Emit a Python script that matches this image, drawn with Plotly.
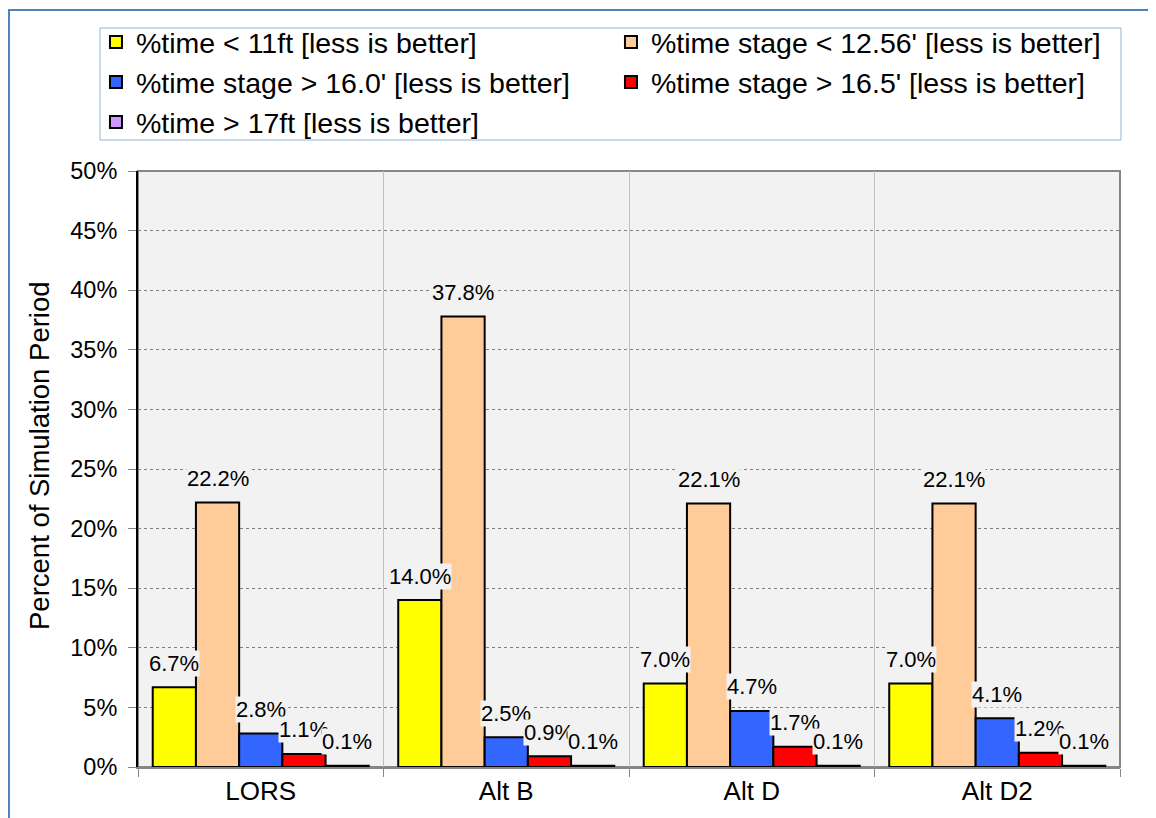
import plotly.graph_objects as go

# categories and series (percent of simulation period)
alternatives = ["LORS", "Alt B", "Alt D", "Alt D2"]
series_names = [
    "%time < 11ft [less is better]",
    "%time stage < 12.56' [less is better]",
    "%time stage > 16.0' [less is better]",
    "%time stage > 16.5' [less is better]",
    "%time > 17ft [less is better]",
]
lt_11ft = [6.7, 14.0, 7.0, 7.0]
lt_1256 = [22.2, 37.8, 22.1, 22.1]
gt_160 = [2.8, 2.5, 4.7, 4.1]
gt_165 = [1.1, 0.9, 1.7, 1.2]
gt_17ft = [0.1, 0.1, 0.1, 0.1]
y_ticks = [0, 5, 10, 15, 20, 25, 30, 35, 40, 45, 50]
y_tick_labels = ["0%", "5%", "10%", "15%", "20%", "25%", "30%", "35%", "40%", "45%", "50%"]
y_title = "Percent of Simulation Period"

series = [lt_11ft, lt_1256, gt_160, gt_165, gt_17ft]
colors = ["#FFFF00", "#FFCC99", "#3366FF", "#FF0000", "#CC99FF"]

FONT = "Liberation Sans, Arial, sans-serif"
BAR_PX = 43.2

fig = go.Figure()
for name, vals, col in zip(series_names, series, colors):
    fig.add_trace(
        go.Bar(
            x=alternatives,
            y=vals,
            name=name,
            marker=dict(color=col, line=dict(color="black", width=2)),
        )
    )

# data labels, Excel style: a little above each bar, with a background patch
annotations = []
for i, vals in enumerate(series):
    for cat, v in zip(alternatives, vals):
        annotations.append(
            dict(
                x=cat,
                y=v,
                xref="x",
                yref="y",
                text=f"{v:.1f}%",
                showarrow=False,
                xshift=(i - 2) * BAR_PX,
                yshift=24,
                bgcolor="#F2F2F2",
                borderpad=0,
                font=dict(family=FONT, size=22, color="black"),
            )
        )

# y axis title, sits a bit above the plot's middle like the original
annotations.append(
    dict(
        text=y_title,
        xref="paper",
        yref="paper",
        x=-0.0998,
        y=0.5235,
        xanchor="center",
        yanchor="middle",
        textangle=-90,
        showarrow=False,
        font=dict(family=FONT, size=27.5, color="black"),
    )
)

shapes = [
    # plot area frame
    dict(type="rect", xref="paper", yref="paper", x0=0, y0=0, x1=1, y1=1,
         line=dict(color="#868686", width=2), layer="below"),
    # legend box
    dict(type="rect", xref="paper", yref="paper", x0=-0.0387, y0=1.052,
         x1=1.001, y1=1.2399, line=dict(color="#95B3D7", width=1),
         fillcolor="white", layer="below"),
    # chart outer border (cut off at right/bottom)
    dict(type="line", xref="paper", yref="paper", x0=-0.1314, y0=-0.3,
         x1=-0.1314, y1=1.2718, line=dict(color="#4F81BD", width=2), layer="above"),
    dict(type="line", xref="paper", yref="paper", x0=-0.1314, y0=1.2702,
         x1=1.2, y1=1.2702, line=dict(color="#4F81BD", width=2), layer="above"),
]

fig.update_layout(
    width=1148,
    height=810,
    margin=dict(l=130, r=36, t=163, b=51, autoexpand=False),
    paper_bgcolor="white",
    plot_bgcolor="#F2F2F2",
    barmode="group",
    bargap=0.12,
    bargroupgap=0,
    font=dict(family=FONT, size=22, color="black"),
    annotations=annotations,
    shapes=shapes,
    legend=dict(
        orientation="h",
        x=-0.0428,
        y=1.2584,
        xanchor="left",
        yanchor="top",
        entrywidth=470,
        entrywidthmode="pixels",
        bgcolor="rgba(0,0,0,0)",
        borderwidth=0,
        font=dict(family=FONT, size=28.5, color="black"),
        traceorder="normal",
    ),
    xaxis=dict(
        type="category",
        tickson="boundaries",
        showgrid=True,
        gridcolor="#C0C0C0",
        gridwidth=1,
        ticks="outside",
        ticklen=8,
        tickcolor="#868686",
        showline=True,
        linecolor="#868686",
        linewidth=2,
        tickfont=dict(size=26),
    ),
    yaxis=dict(
        range=[0, 50],
        tickmode="array",
        tickvals=y_ticks,
        ticktext=y_tick_labels,
        showgrid=True,
        gridcolor="#808080",
        griddash="dot",
        gridwidth=1,
        ticks="outside",
        ticklen=8,
        tickcolor="#868686",
        ticklabelstandoff=6,
        showline=True,
        linecolor="black",
        linewidth=2,
        zeroline=False,
        tickfont=dict(size=23.5),
    ),
)

fig.write_html("out.html")
